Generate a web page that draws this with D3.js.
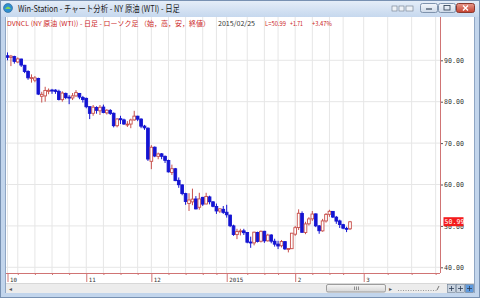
<!DOCTYPE html>
<html lang="ja">
<head>
<meta charset="utf-8">
<title>NY 原油 (WTI) - 日足</title>
<script src="https://cdn.jsdelivr.net/npm/d3@7"></script>
<style>
  html, body { margin: 0; padding: 0; background: #fff; overflow: hidden; }
  svg { display: block; }
</style>
</head>
<body>
<script>
// daily bars, one per trading day
const dates = [
  "2014/10/01","2014/10/02","2014/10/03","2014/10/06","2014/10/07","2014/10/08","2014/10/09","2014/10/10","2014/10/13","2014/10/14",
  "2014/10/15","2014/10/16","2014/10/17","2014/10/20","2014/10/21","2014/10/22","2014/10/23","2014/10/24","2014/10/27","2014/10/28",
  "2014/10/29","2014/10/30","2014/10/31",
  "2014/11/03","2014/11/04","2014/11/05","2014/11/06","2014/11/07","2014/11/10","2014/11/11","2014/11/12","2014/11/13","2014/11/14",
  "2014/11/17","2014/11/18","2014/11/19","2014/11/20","2014/11/21","2014/11/24","2014/11/25","2014/11/26","2014/11/28",
  "2014/12/01","2014/12/02","2014/12/03","2014/12/04","2014/12/05","2014/12/08","2014/12/09","2014/12/10","2014/12/11","2014/12/12",
  "2014/12/15","2014/12/16","2014/12/17","2014/12/18","2014/12/19","2014/12/22","2014/12/23","2014/12/24","2014/12/26","2014/12/29",
  "2014/12/30","2014/12/31",
  "2015/01/02","2015/01/05","2015/01/06","2015/01/07","2015/01/08","2015/01/09","2015/01/12","2015/01/13","2015/01/14","2015/01/15",
  "2015/01/16","2015/01/20","2015/01/21","2015/01/22","2015/01/23","2015/01/26","2015/01/27","2015/01/28","2015/01/29","2015/01/30",
  "2015/02/02","2015/02/03","2015/02/04","2015/02/05","2015/02/06","2015/02/09","2015/02/10","2015/02/11","2015/02/12","2015/02/13",
  "2015/02/17","2015/02/18","2015/02/19","2015/02/20","2015/02/23","2015/02/24","2015/02/25"
];
const opens = [
  91.10,90.70,90.90,89.60,90.30,88.80,87.30,85.80,85.20,85.60,81.30,81.40,82.50,82.80,82.80,82.50,80.50,82.00,81.10,80.90,81.40,82.00,81.00,
  80.80,78.80,77.20,78.60,77.80,78.70,77.30,77.90,77.20,74.20,75.90,75.60,74.40,74.60,75.60,76.50,75.80,74.10,73.60,
  65.60,69.00,66.80,67.40,66.80,65.80,62.90,63.80,61.00,59.90,57.80,55.40,55.80,56.50,54.50,56.90,55.30,57.00,55.80,54.70,53.60,54.00,
  53.30,52.60,50.00,47.90,48.70,48.80,48.40,46.10,45.90,48.40,46.30,48.70,46.40,47.80,46.30,45.60,45.20,46.20,44.30,44.50,
  48.00,49.60,53.00,48.40,50.50,51.70,52.90,50.00,48.80,51.20,52.80,53.50,52.10,51.20,50.30,49.40,49.30
];
const highs = [
  91.90,91.30,91.10,90.70,90.40,88.90,87.60,86.60,86.20,85.80,82.40,83.60,83.20,83.10,83.00,82.90,82.50,82.20,81.60,82.10,82.80,82.10,81.40,
  81.00,78.90,79.20,78.90,79.20,79.30,78.20,78.20,77.40,76.00,76.60,75.90,75.30,75.90,77.80,76.60,76.00,74.40,73.80,
  69.50,69.20,67.70,67.60,67.00,66.00,64.80,64.00,61.70,60.00,58.00,57.90,59.00,57.20,58.00,57.00,58.00,57.30,56.00,55.40,54.30,54.80,
  55.10,52.70,50.30,49.30,49.30,49.30,48.50,47.40,48.60,48.60,48.90,48.80,48.10,48.00,46.90,46.40,46.60,46.30,44.60,48.30,
  50.00,54.00,53.50,51.00,52.10,53.60,53.00,50.20,51.70,53.10,53.90,53.60,52.40,51.50,50.50,49.80,51.20
];
const lows = [
  90.00,88.60,89.20,89.30,88.40,86.90,85.30,84.60,84.70,81.60,79.80,80.00,81.80,81.90,81.90,80.30,80.00,80.60,79.40,80.40,81.20,80.60,79.80,
  78.40,75.80,76.60,77.10,76.80,77.20,76.90,76.80,73.80,73.80,74.60,74.40,73.90,73.60,75.40,75.30,73.60,73.20,65.70,
  63.70,66.60,66.10,66.10,65.20,62.90,62.30,60.80,59.20,57.40,55.10,53.60,55.00,54.00,53.90,54.80,55.20,55.20,54.50,52.90,53.10,52.90,
  52.00,49.70,47.60,46.80,47.70,47.80,45.80,44.70,45.30,46.00,46.00,45.90,46.20,45.80,45.00,44.40,44.80,44.20,43.60,44.40,
  47.60,49.00,48.40,48.00,50.10,51.20,49.70,48.10,48.60,50.80,52.20,51.90,50.50,49.50,49.20,48.50,49.00
];
const closes = [
  90.73,91.01,89.74,90.34,88.85,87.31,85.77,85.82,85.74,81.84,81.78,82.70,82.75,82.71,82.49,80.52,82.09,81.01,81.00,81.42,82.20,81.12,80.54,
  78.78,77.19,78.68,77.91,78.65,77.40,77.94,77.18,74.21,75.82,75.64,74.61,74.58,75.58,76.51,75.78,74.09,73.69,66.15,
  69.00,66.88,67.38,66.81,65.84,63.05,63.82,60.94,59.95,57.81,55.91,56.26,56.47,54.11,56.52,55.26,57.12,55.84,54.73,53.61,54.12,53.27,
  52.69,50.04,47.93,48.65,48.79,48.36,46.07,45.89,48.48,46.25,48.69,46.39,47.78,46.31,45.59,45.15,46.23,44.45,44.53,48.24,
  49.57,53.05,48.45,50.48,51.69,52.86,50.02,48.84,51.21,52.78,53.53,52.14,51.16,50.34,49.45,49.28,50.99
];

// x axis, in bar index units (104.. are the empty days after the last bar)
const monthTicks = [0, 23, 42, 64, 84, 104];
const monthLabels = ["10", "11", "12", "2015", "2", "3"];
const weekTicks = [3, 8, 13, 18, 28, 33, 38, 47, 52, 57, 61, 70, 75, 79, 89, 94, 98, 111, 118, 125];
const priceTicks = [40, 50, 60, 70, 80, 90];

const lastPrice = 50.99;
const header = {
  title: "DVNCL (NY 原油 (WTI)) - 日足 - ローソク足 （始，高，安，終値）",
  date: "2015/02/25",
  last: "L=50.99",
  change: "+1.71",
  pct: "+3.47%"
};

const W = 480, H = 298;
const plot = {left: 6, right: 440, top: 17, bottom: 273};
const upColor = "#c8504c", downColor = "#1414d2", axisColor = "#d07474", gridColor = "#e6e6e6";

const svg = d3.select("body").append("svg")
    .attr("width", W)
    .attr("height", H);

const defs = svg.append("defs");
const tg = defs.append("linearGradient").attr("id", "titlebar").attr("x1", 0).attr("y1", 0).attr("x2", 0).attr("y2", 1);
tg.append("stop").attr("offset", 0).attr("stop-color", "#e4edf8");
tg.append("stop").attr("offset", 1).attr("stop-color", "#c6d8ee");
const bg = defs.append("linearGradient").attr("id", "btn").attr("x1", 0).attr("y1", 0).attr("x2", 0).attr("y2", 1);
bg.append("stop").attr("offset", 0).attr("stop-color", "#f4f7fb");
bg.append("stop").attr("offset", 1).attr("stop-color", "#cdd9e8");
const cg = defs.append("linearGradient").attr("id", "closebtn").attr("x1", 0).attr("y1", 0).attr("x2", 0).attr("y2", 1);
cg.append("stop").attr("offset", 0).attr("stop-color", "#e89a8c");
cg.append("stop").attr("offset", 1).attr("stop-color", "#c4402f");
const sg = defs.append("linearGradient").attr("id", "thumb").attr("x1", 0).attr("y1", 0).attr("x2", 0).attr("y2", 1);
sg.append("stop").attr("offset", 0).attr("stop-color", "#f6f6f6");
sg.append("stop").attr("offset", 1).attr("stop-color", "#d6d6d6");
defs.append("clipPath").attr("id", "plotclip")
  .append("rect")
    .attr("x", plot.left).attr("y", plot.top)
    .attr("width", plot.right - plot.left).attr("height", plot.bottom - plot.top);

// window frame
svg.append("rect").attr("width", W).attr("height", H).attr("fill", "#c2d5ec");
svg.append("rect").attr("x", 0.5).attr("y", 0.5).attr("width", W - 1).attr("height", H - 1)
    .attr("fill", "none").attr("stroke", "#7891b2");
svg.append("rect").attr("x", 1).attr("y", 1).attr("width", W - 2).attr("height", 16).attr("fill", "url(#titlebar)");
svg.append("rect").attr("x", plot.left).attr("y", plot.top).attr("width", 468).attr("height", 276).attr("fill", "#fff");
svg.append("line").attr("x1", 5.5).attr("x2", 5.5).attr("y1", 17).attr("y2", 293).attr("stroke", "#8fa6c4");
svg.append("line").attr("x1", 474.5).attr("x2", 474.5).attr("y1", 17).attr("y2", 293).attr("stroke", "#8fa6c4");

// title bar
const icon = svg.append("g").attr("transform", "translate(8,8)");
icon.append("circle").attr("r", 4.5).attr("fill", "#2f8fd0").attr("stroke", "#2a5f8e").attr("stroke-width", 0.6);
icon.append("path").attr("d", "M-3,1 Q0,-4 3,1 Z").attr("fill", "#7fd35a");
svg.append("text")
    .attr("x", 18).attr("y", 12)
    .attr("font-family", "'Noto Sans CJK JP', 'Noto Sans', sans-serif")
    .attr("font-size", 8.6)
    .attr("fill", "#1a1a1a")
    .attr("textLength", 162).attr("lengthAdjust", "spacingAndGlyphs")
    .text("Win-Station - チャート分析 - NY 原油 (WTI) - 日足");

[392, 399, 406].forEach((bx, k) => {
  svg.append("rect").attr("x", bx).attr("y", 6).attr("width", k == 2 ? 7 : 5).attr("height", 5)
      .attr("fill", "#eef2f7").attr("stroke", "#6d7a8a").attr("stroke-width", 0.6);
});
svg.append("rect").attr("x", 420.5).attr("y", 3.5).attr("width", 17).attr("height", 9).attr("rx", 2)
    .attr("fill", "url(#btn)").attr("stroke", "#7f93ad");
svg.append("line").attr("x1", 426).attr("x2", 432).attr("y1", 9).attr("y2", 9).attr("stroke", "#3a4a5e").attr("stroke-width", 1.2);
svg.append("rect").attr("x", 438.5).attr("y", 3.5).attr("width", 17).attr("height", 9).attr("rx", 2)
    .attr("fill", "url(#btn)").attr("stroke", "#7f93ad");
svg.append("rect").attr("x", 444).attr("y", 5.5).attr("width", 6).attr("height", 4.5)
    .attr("fill", "none").attr("stroke", "#3a4a5e").attr("stroke-width", 0.9);
svg.append("rect").attr("x", 456.5).attr("y", 3.5).attr("width", 18).attr("height", 9).attr("rx", 2)
    .attr("fill", "url(#closebtn)").attr("stroke", "#8a3a30");
svg.append("path").attr("d", "M463,5.5 L468,10.5 M468,5.5 L463,10.5")
    .attr("stroke", "#fff").attr("stroke-width", 1.4);

// scales
const x = d3.scaleLinear().domain([0, 100]).range([7.5, 350]);
const y = d3.scaleLinear().domain([40, 90]).range([267.3, 60.3]);

// grid
const grid = svg.append("g");
grid.selectAll("line.v")
  .data(monthTicks.concat(weekTicks))
  .join("line")
    .attr("x1", d => x(d)).attr("x2", d => x(d))
    .attr("y1", plot.top).attr("y2", plot.bottom)
    .attr("stroke", gridColor).attr("stroke-width", 1);
grid.selectAll("line.h")
  .data(priceTicks)
  .join("line")
    .attr("x1", plot.left).attr("x2", plot.right)
    .attr("y1", d => y(d)).attr("y2", d => y(d))
    .attr("stroke", gridColor).attr("stroke-width", 1);

// header line
const head = svg.append("g")
    .attr("font-family", "'Noto Sans CJK JP', sans-serif")
    .attr("font-size", 6.8);
[
  {t: header.title, x0: 7, w: 203, c: "#cc1f1f"},
  {t: header.date, x0: 218, w: 37, c: "#333"},
  {t: header.last, x0: 265, w: 21, c: "#cc1f1f"},
  {t: header.change, x0: 290, w: 13, c: "#cc1f1f"},
  {t: header.pct, x0: 312, w: 20, c: "#cc1f1f"}
].forEach(s => {
  head.append("text")
      .attr("x", s.x0).attr("y", 26)
      .attr("fill", s.c)
      .attr("textLength", s.w).attr("lengthAdjust", "spacingAndGlyphs")
      .text(s.t);
});

// candles
const bars = dates.map((d, i) => ({i: i, date: d, o: opens[i], h: highs[i], l: lows[i], c: closes[i]}));
const bw = 2.7;
const candles = svg.append("g").attr("clip-path", "url(#plotclip)");
candles.selectAll("line")
  .data(bars)
  .join("line")
    .attr("x1", d => x(d.i)).attr("x2", d => x(d.i))
    .attr("y1", d => y(d.h)).attr("y2", d => y(d.l))
    .attr("stroke", d => d.c >= d.o ? upColor : downColor)
    .attr("stroke-width", 1);
candles.selectAll("rect")
  .data(bars)
  .join("rect")
    .attr("x", d => x(d.i) - bw / 2)
    .attr("y", d => y(Math.max(d.o, d.c)))
    .attr("width", bw)
    .attr("height", d => Math.max(0.9, Math.abs(y(d.o) - y(d.c))))
    .attr("fill", d => d.c >= d.o ? "#fff" : downColor)
    .attr("stroke", d => d.c >= d.o ? upColor : downColor)
    .attr("stroke-width", 0.9);

// x axis
const xAxisG = svg.append("g").attr("transform", `translate(0,${plot.bottom})`);
xAxisG.append("g")
    .call(d3.axisBottom(x).tickValues(weekTicks).tickSize(2).tickSizeOuter(0).tickFormat(""))
    .call(g => g.select(".domain").remove());
const monthAxis = xAxisG.append("g")
    .call(d3.axisBottom(x).tickValues(monthTicks).tickSize(9).tickSizeOuter(0)
      .tickFormat((d, k) => monthLabels[k]))
    .call(g => g.select(".domain").remove());
monthAxis.selectAll("text")
    .attr("x", 2).attr("y", 4.5).attr("dy", "0.71em")
    .attr("text-anchor", "start")
    .attr("font-family", "'DejaVu Sans Mono', monospace")
    .attr("font-size", 5.8)
    .attr("fill", "#333");
xAxisG.selectAll(".tick line").attr("stroke", axisColor);

// y axis
const yAxisG = svg.append("g").attr("transform", `translate(${plot.right},0)`)
    .call(d3.axisRight(y).tickValues(priceTicks).tickSize(3).tickSizeOuter(0).tickFormat(d3.format(".2f")))
    .call(g => g.select(".domain").remove());
yAxisG.selectAll(".tick line").attr("stroke", "#555");
yAxisG.selectAll("text")
    .attr("x", 4)
    .attr("font-family", "'DejaVu Sans Mono', monospace")
    .attr("font-size", 6.6)
    .attr("fill", "#333");

// axis lines
svg.append("line")
    .attr("x1", plot.left).attr("x2", plot.right)
    .attr("y1", plot.bottom + 0.5).attr("y2", plot.bottom + 0.5)
    .attr("stroke", axisColor);
svg.append("line")
    .attr("x1", plot.right + 0.5).attr("x2", plot.right + 0.5)
    .attr("y1", plot.top).attr("y2", plot.bottom)
    .attr("stroke", axisColor);

// last price marker (sits over the 50.00 tick label, as in the original)
svg.append("rect")
    .attr("x", plot.right + 3.5).attr("y", y(lastPrice) - 4.6)
    .attr("width", 20).attr("height", 9)
    .attr("fill", "#f41c1c");
svg.append("text")
    .attr("x", plot.right + 4.5).attr("y", y(lastPrice) + 2.4)
    .attr("font-family", "'DejaVu Sans Mono', monospace")
    .attr("font-size", 6.6)
    .attr("fill", "#fff")
    .text(d3.format(".2f")(lastPrice));

// bottom scroll bar
svg.append("rect").attr("x", plot.left).attr("y", 283).attr("width", 468).attr("height", 10).attr("fill", "#ececec");
svg.append("line").attr("x1", plot.left).attr("x2", 474).attr("y1", 283.5).attr("y2", 283.5).attr("stroke", "#d8d8d8");
svg.append("text").attr("x", 9).attr("y", 291).attr("font-size", 6).attr("fill", "#555").text("◂");
svg.append("rect").attr("x", 326.5).attr("y", 284.5).attr("width", 59).attr("height", 7.5).attr("rx", 1.5)
    .attr("fill", "url(#thumb)").attr("stroke", "#9c9c9c");
[354, 356, 358].forEach(gx => {
  svg.append("line").attr("x1", gx + 0.5).attr("x2", gx + 0.5).attr("y1", 286.5).attr("y2", 290)
      .attr("stroke", "#777").attr("stroke-width", 0.8);
});
svg.append("text").attr("x", 389).attr("y", 291).attr("font-size", 6).attr("fill", "#555").text("▸");
svg.append("line").attr("x1", 398).attr("x2", 438).attr("y1", 290.5).attr("y2", 290.5)
    .attr("stroke", "#999").attr("stroke-dasharray", "1,1.5");
svg.append("line").attr("x1", 437).attr("x2", 439).attr("y1", 290).attr("y2", 286)
    .attr("stroke", "#777");
[{bx: 447, f: "#c9d3df"}, {bx: 456, f: "#c9d3df"}, {bx: 465, f: "#5e9be0"}].forEach(b => {
  svg.append("rect").attr("x", b.bx + 0.5).attr("y", 284.5).attr("width", 8).attr("height", 8)
      .attr("fill", b.f).attr("stroke", "#6a7d94").attr("stroke-width", 0.6);
  svg.append("path").attr("d", `M${b.bx + 2},${288.5} h5 M${b.bx + 4.5},286 v5`)
      .attr("stroke", "#2c3e55").attr("stroke-width", 0.8);
});
</script>
</body>
</html>
